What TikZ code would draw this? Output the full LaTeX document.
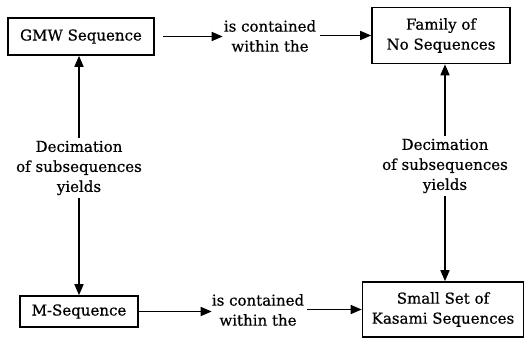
\documentclass[tikz,border=0pt]{standalone}
\usepackage{fontspec}
\setmainfont{DejaVu Serif}[FakeBold=0.6]
\usetikzlibrary{arrows.meta}
\begin{document}
\begin{tikzpicture}[x=1pt,y=-1pt,
 box/.style={draw,line width=1.6pt,align=center,inner sep=0pt,font=\fontsize{15}{20}\selectfont},
 lbl/.style={align=center,inner sep=0pt,font=\fontsize{15}{20}\selectfont},
 arr/.style={line width=1.6pt,-{Triangle[length=11pt,width=9pt]}}]
\useasboundingbox (0,0) rectangle (525,339);
\node[box,minimum width=146pt,minimum height=37pt] (gmw) at (81,36.5) {GMW Sequence};
\node[box,minimum width=138pt,minimum height=56pt] (fam) at (441,35.5) {Family of\\No Sequences};
\node[box,minimum width=118pt,minimum height=31pt] (m) at (79,311.5) {M-Sequence};
\node[box,minimum width=161pt,minimum height=55pt] (kas) at (443,309.5) {Small Set of\\Kasami Sequences};
\node[lbl] (c1) at (270,36) {is contained\\within the};
\node[lbl] (c2) at (258,310) {is contained\\within the};
\node[lbl] (d1) at (79,168) {Decimation\\of subsequences\\yields};
\node[lbl] (d2) at (445,166) {Decimation\\of subsequences\\yields};
\draw[arr,shorten <=8pt,shorten >=1pt] (gmw.east) -- (c1.west |- gmw.east);
\draw[arr,shorten <=4pt] (c1.east |- fam.west) -- (fam.west);
\draw[arr] (m.east) -- (c2.west |- m.east);
\draw[arr,shorten <=3pt] (c2.east |- kas.west) -- (kas.west);
\draw[arr,shorten <=3pt] (d1.north) -- (d1.north |- gmw.south);
\draw[arr,shorten <=3pt] (d1.south) -- (d1.south |- m.north);
\draw[arr,shorten <=3pt] (d2.north) -- (d2.north |- fam.south);
\draw[arr,shorten <=3pt] (d2.south) -- (d2.south |- kas.north);
\end{tikzpicture}
\end{document}
